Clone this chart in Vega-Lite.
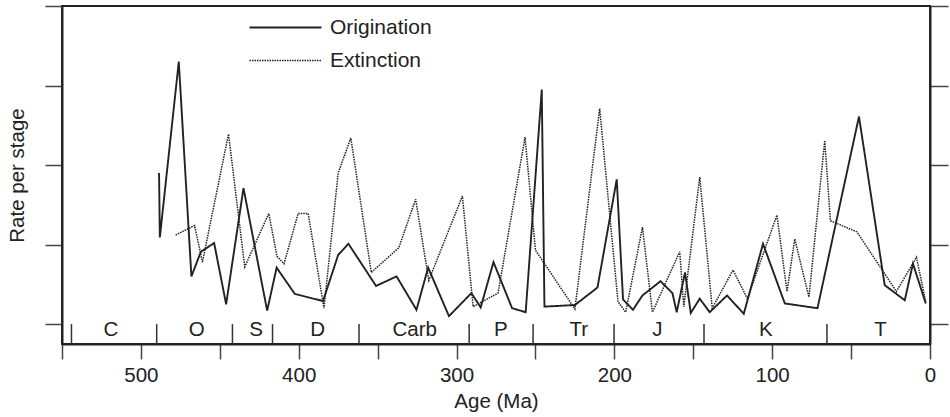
{
  "$schema": "https://vega.github.io/schema/vega-lite/v6.json",
  "width": 868,
  "height": 338,
  "autosize": {"type": "none"},
  "padding": {"left": 62, "top": 6, "right": 20, "bottom": 73},
  "background": "white",
  "config": {
    "font": "Liberation Sans",
    "view": {"stroke": "#222", "strokeWidth": 2},
    "axis": {
      "domainColor": "#222", "domainWidth": 2,
      "tickColor": "#444", "tickWidth": 1.5,
      "labelFont": "Liberation Sans", "titleFont": "Liberation Sans",
      "labelFontSize": 20.5, "titleFontSize": 20.5, "titleFontWeight": "normal",
      "labelColor": "#222", "titleColor": "#222", "grid": false
    }
  },
  "datasets": {
    "rates": [
      {"series": "Origination", "age": 488.5, "rate": 1.90},
      {"series": "Origination", "age": 488, "rate": 1.09},
      {"series": "Origination", "age": 476, "rate": 3.30},
      {"series": "Origination", "age": 468, "rate": 0.60},
      {"series": "Origination", "age": 462, "rate": 0.91},
      {"series": "Origination", "age": 453.6, "rate": 1.02},
      {"series": "Origination", "age": 446, "rate": 0.25},
      {"series": "Origination", "age": 435, "rate": 1.71},
      {"series": "Origination", "age": 420, "rate": 0.17},
      {"series": "Origination", "age": 414, "rate": 0.71},
      {"series": "Origination", "age": 402.5, "rate": 0.38},
      {"series": "Origination", "age": 384.6, "rate": 0.29},
      {"series": "Origination", "age": 375, "rate": 0.87},
      {"series": "Origination", "age": 368.5, "rate": 1.01},
      {"series": "Origination", "age": 351, "rate": 0.48},
      {"series": "Origination", "age": 338, "rate": 0.60},
      {"series": "Origination", "age": 325.4, "rate": 0.18},
      {"series": "Origination", "age": 318, "rate": 0.71},
      {"series": "Origination", "age": 304.8, "rate": 0.10},
      {"series": "Origination", "age": 290.6, "rate": 0.39},
      {"series": "Origination", "age": 284.7, "rate": 0.21},
      {"series": "Origination", "age": 276.6, "rate": 0.78},
      {"series": "Origination", "age": 264.8, "rate": 0.20},
      {"series": "Origination", "age": 256.2, "rate": 0.15},
      {"series": "Origination", "age": 246, "rate": 2.95},
      {"series": "Origination", "age": 244.3, "rate": 0.22},
      {"series": "Origination", "age": 225, "rate": 0.24},
      {"series": "Origination", "age": 210.7, "rate": 0.46},
      {"series": "Origination", "age": 198.5, "rate": 1.82},
      {"series": "Origination", "age": 194.5, "rate": 0.31},
      {"series": "Origination", "age": 188.2, "rate": 0.18},
      {"series": "Origination", "age": 182.2, "rate": 0.36},
      {"series": "Origination", "age": 170.8, "rate": 0.54},
      {"series": "Origination", "age": 163.2, "rate": 0.39},
      {"series": "Origination", "age": 160.5, "rate": 0.15},
      {"series": "Origination", "age": 155.2, "rate": 0.65},
      {"series": "Origination", "age": 151.6, "rate": 0.14},
      {"series": "Origination", "age": 145.9, "rate": 0.32},
      {"series": "Origination", "age": 139.6, "rate": 0.15},
      {"series": "Origination", "age": 128.6, "rate": 0.36},
      {"series": "Origination", "age": 118, "rate": 0.13},
      {"series": "Origination", "age": 105.8, "rate": 1.01},
      {"series": "Origination", "age": 92, "rate": 0.26},
      {"series": "Origination", "age": 71.3, "rate": 0.20},
      {"series": "Origination", "age": 45, "rate": 2.61},
      {"series": "Origination", "age": 28.7, "rate": 0.49},
      {"series": "Origination", "age": 16, "rate": 0.30},
      {"series": "Origination", "age": 10.8, "rate": 0.76},
      {"series": "Origination", "age": 2.7, "rate": 0.26},
      {"series": "Extinction", "age": 478, "rate": 1.12},
      {"series": "Extinction", "age": 466, "rate": 1.24},
      {"series": "Extinction", "age": 461, "rate": 0.78},
      {"series": "Extinction", "age": 444.5, "rate": 2.39},
      {"series": "Extinction", "age": 434.2, "rate": 0.72},
      {"series": "Extinction", "age": 419, "rate": 1.39},
      {"series": "Extinction", "age": 413.7, "rate": 0.85},
      {"series": "Extinction", "age": 409.3, "rate": 0.76},
      {"series": "Extinction", "age": 400.4, "rate": 1.39},
      {"series": "Extinction", "age": 394, "rate": 1.39},
      {"series": "Extinction", "age": 384, "rate": 0.20},
      {"series": "Extinction", "age": 375, "rate": 1.90},
      {"series": "Extinction", "age": 367, "rate": 2.34},
      {"series": "Extinction", "age": 354, "rate": 0.65},
      {"series": "Extinction", "age": 336.6, "rate": 0.96},
      {"series": "Extinction", "age": 325.9, "rate": 1.57},
      {"series": "Extinction", "age": 317.6, "rate": 0.55},
      {"series": "Extinction", "age": 296.3, "rate": 1.61},
      {"series": "Extinction", "age": 289.5, "rate": 0.22},
      {"series": "Extinction", "age": 273.7, "rate": 0.39},
      {"series": "Extinction", "age": 256.6, "rate": 2.35},
      {"series": "Extinction", "age": 250, "rate": 0.93},
      {"series": "Extinction", "age": 225, "rate": 0.19},
      {"series": "Extinction", "age": 209.3, "rate": 2.71},
      {"series": "Extinction", "age": 197.7, "rate": 0.28},
      {"series": "Extinction", "age": 192.8, "rate": 0.15},
      {"series": "Extinction", "age": 182.2, "rate": 1.22},
      {"series": "Extinction", "age": 175.9, "rate": 0.15},
      {"series": "Extinction", "age": 158.6, "rate": 0.91},
      {"series": "Extinction", "age": 156, "rate": 0.22},
      {"series": "Extinction", "age": 145.9, "rate": 1.85},
      {"series": "Extinction", "age": 138, "rate": 0.20},
      {"series": "Extinction", "age": 124.8, "rate": 0.68},
      {"series": "Extinction", "age": 115.7, "rate": 0.32},
      {"series": "Extinction", "age": 97, "rate": 1.37},
      {"series": "Extinction", "age": 90.6, "rate": 0.41},
      {"series": "Extinction", "age": 85.7, "rate": 1.07},
      {"series": "Extinction", "age": 76.7, "rate": 0.34},
      {"series": "Extinction", "age": 66.7, "rate": 2.31},
      {"series": "Extinction", "age": 63.1, "rate": 1.30},
      {"series": "Extinction", "age": 46.3, "rate": 1.16},
      {"series": "Extinction", "age": 21.3, "rate": 0.41},
      {"series": "Extinction", "age": 8.6, "rate": 0.84},
      {"series": "Extinction", "age": 2.7, "rate": 0.28}
    ],
    "bounds": [
      {"age": 544}, {"age": 490}, {"age": 442}, {"age": 416.6}, {"age": 361.8},
      {"age": 292}, {"age": 251.5}, {"age": 200.2}, {"age": 143.2}, {"age": 65.3}
    ],
    "periods": [
      {"name": "C", "mid": 519},
      {"name": "O", "mid": 464.6},
      {"name": "S", "mid": 427},
      {"name": "D", "mid": 388},
      {"name": "Carb", "mid": 326.5},
      {"name": "P", "mid": 272},
      {"name": "Tr", "mid": 222.6},
      {"name": "J", "mid": 172.7},
      {"name": "K", "mid": 104},
      {"name": "T", "mid": 31.4}
    ]
  },
  "resolve": {"axis": {"y": "independent"}},
  "layer": [
    {
      "data": {"name": "rates"},
      "mark": {"type": "line", "color": "#222"},
      "encoding": {
        "x": {
          "field": "age", "type": "quantitative", "title": "Age (Ma)",
          "scale": {"domain": [0, 550], "reverse": true, "nice": false, "zero": false},
          "axis": {
            "values": [550, 500, 450, 400, 350, 300, 250, 200, 150, 100, 50, 0],
            "labelExpr": "datum.value % 100 === 0 ? datum.label : ''",
            "labelFlush": false, "labelOverlap": false,
            "tickSize": 15, "labelPadding": 6, "titlePadding": 6
          }
        },
        "y": {
          "field": "rate", "type": "quantitative", "title": "Rate per stage",
          "scale": {"domain": [-0.25, 4], "nice": false, "zero": false},
          "axis": {"values": [0, 1, 2, 3, 4], "labels": false, "tickSize": 17, "titlePadding": 17}
        },
        "strokeDash": {
          "field": "series", "type": "nominal",
          "scale": {"domain": ["Origination", "Extinction"], "range": [[1, 0], [1.5, 1]]},
          "legend": {
            "orient": "none", "legendX": 213, "legendY": 11, "title": null,
            "symbolType": "M -4 0 L 4 0", "symbolSize": 324, "symbolStrokeWidth": 1.6,
            "symbolStrokeColor": "#222", "symbolFillColor": "transparent",
            "labelFontSize": 21, "labelColor": "#222",
            "labelFont": "Liberation Sans", "labelOffset": 34, "rowPadding": 11, "padding": 0
          }
        },
        "strokeWidth": {
          "field": "series", "type": "nominal",
          "scale": {"domain": ["Origination", "Extinction"], "range": [1.9, 1.5]},
          "legend": null
        }
      }
    },
    {
      "data": {"name": "bounds"},
      "mark": {"type": "rule", "color": "#333", "strokeWidth": 1.5},
      "encoding": {
        "x": {"field": "age", "type": "quantitative", "title": "Age (Ma)"},
        "y": {"datum": 0, "type": "quantitative",
              "axis": {"orient": "right", "values": [0, 1, 2, 3, 4], "labels": false, "title": null, "tickSize": 18}},
        "y2": {"datum": -0.25}
      }
    },
    {
      "data": {"name": "periods"},
      "mark": {"type": "text", "fontSize": 20.5, "color": "#222", "baseline": "middle", "font": "Liberation Sans"},
      "encoding": {
        "x": {"field": "mid", "type": "quantitative", "title": "Age (Ma)"},
        "y": {"datum": -0.07, "type": "quantitative", "axis": null},
        "text": {"field": "name"}
      }
    }
  ]
}
